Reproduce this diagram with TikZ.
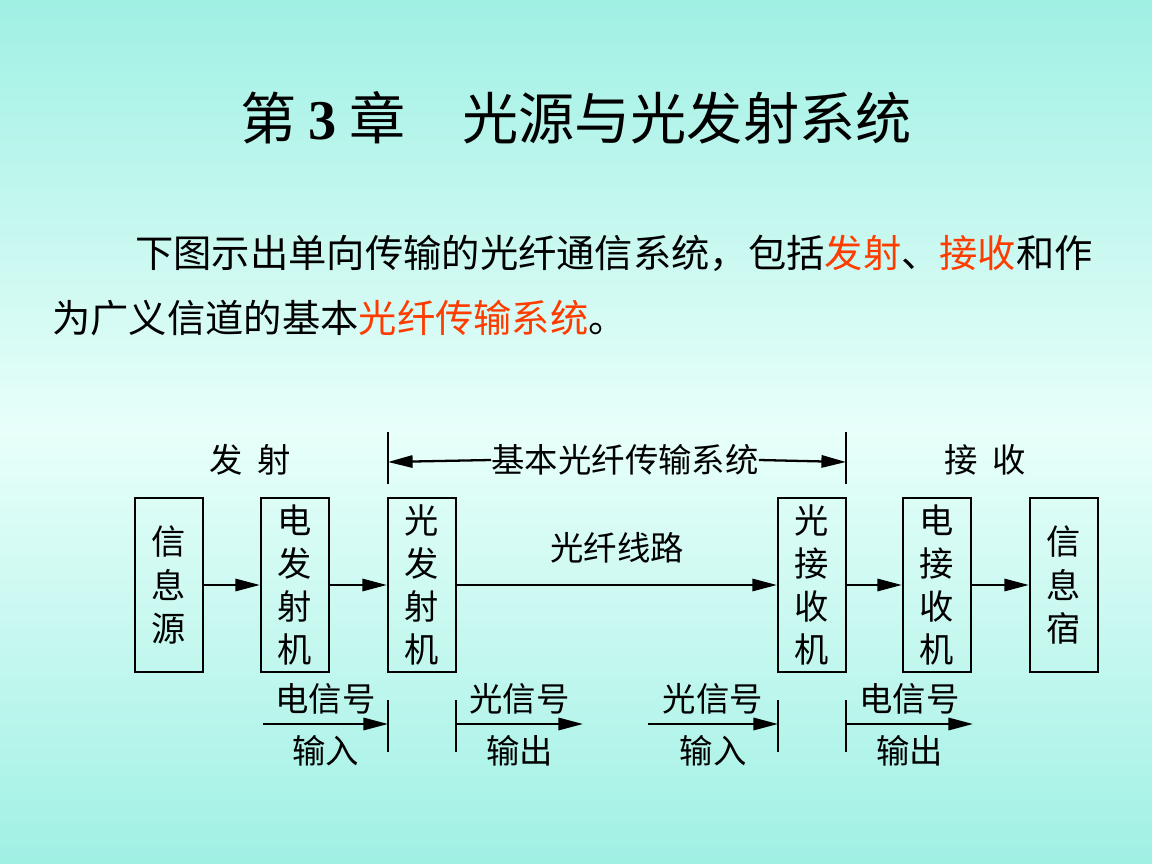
\documentclass[tikz,border=0pt]{standalone}
\usepackage{fontspec}
\setmainfont{Liberation Serif}
\newfontfamily\cjk{Noto Sans CJK SC}
\usetikzlibrary{arrows.meta, calc}
\definecolor{bgcyan}{RGB}{160, 240, 228}
\definecolor{bglight}{RGB}{232, 255, 250}
\definecolor{hired}{RGB}{255, 60, 0}
\tikzstyle{unit} = [draw=black, line width=1.3pt, minimum width=1.36cm,
    minimum height=3.48cm, inner sep=0, font=\cjk\fontsize{19.5}{24.5}\selectfont, align=center]
\tikzstyle{lbl} = [inner sep=0, font=\cjk\fontsize{19}{21}\selectfont]
\tikzstyle{sig} = [line width=1.3pt, -{Triangle[length=14pt,width=7pt]}]
\begin{document}
\begin{tikzpicture}[x=0.02cm, y=-0.02cm]

\shade[top color=bgcyan, bottom color=bgcyan, middle color=bglight] (0,0) rectangle (1152,864);
\useasboundingbox (0,0) rectangle (1152,864);

%%% title and text
\node[inner sep=0, font=\cjk\fontsize{32}{36}\selectfont] (title) at (576,118)
    {第 {\rmfamily\bfseries 3} 章\quad 光源与光发射系统};
\node[inner sep=0, anchor=west, font=\cjk\fontsize{21.8}{26}\selectfont] (line1) at (135,253)
    {下图示出单向传输的光纤通信系统，包括\textcolor{hired}{发射}、\textcolor{hired}{接收}和作};
\node[inner sep=0, anchor=west, font=\cjk\fontsize{21.8}{26}\selectfont] (line2) at (52,318)
    {为广义信道的基本\textcolor{hired}{光纤传输系统}。};

%%% units
\node[unit] (src) at (169,585) {信\\息\\源};
\node[unit] (etx) at (295,585) {电\\发\\射\\机};
\node[unit] (otx) at (422,585) {光\\发\\射\\机};
\node[unit] (orx) at (812,585) {光\\接\\收\\机};
\node[unit] (erx) at (937,585) {电\\接\\收\\机};
\node[unit] (dst) at (1064,585) {信\\息\\宿};

\draw[sig] (src) -- (etx);
\draw[sig] (etx) -- (otx);
\draw[sig] (otx) -- node[lbl, above=12pt] {光纤线路} (orx);
\draw[sig] (orx) -- (erx);
\draw[sig] (erx) -- (dst);

%%% top labels
\node[lbl] (tx) at (250,460) {发\ \ 射};
\node[lbl] (rx) at (985,460) {接\ \ 收};
\node[lbl] (base) at (625,460) {基本光纤传输系统};
\coordinate (bl) at (388,462);
\coordinate (br) at (846,462);
\draw[line width=1.3pt] (388,432) -- (388,484);
\draw[line width=1.3pt] (846,432) -- (846,484);
\draw[sig] (base.west) -- (bl);
\draw[sig] (base.east) -- (br);

%%% bottom signals
\coordinate (s1a) at (263,724); \coordinate (s1b) at (388,724);
\coordinate (s2a) at (456,724); \coordinate (s2b) at (583,724);
\coordinate (s3a) at (648,724); \coordinate (s3b) at (778,724);
\coordinate (s4a) at (846,724); \coordinate (s4b) at (973,724);
\draw[sig] (s1a) -- node[lbl, above=5pt] {电信号} node[lbl, below=6pt] {输入} (s1b);
\draw[sig] (s2a) -- node[lbl, above=5pt] {光信号} node[lbl, below=6pt] {输出} (s2b);
\draw[sig] (s3a) -- node[lbl, above=5pt] {光信号} node[lbl, below=6pt] {输入} (s3b);
\draw[sig] (s4a) -- node[lbl, above=5pt] {电信号} node[lbl, below=6pt] {输出} (s4b);
\foreach \x in {388,456,778,846}
  \draw[line width=1.3pt] (\x,700) -- (\x,752);

\end{tikzpicture}
\end{document}
